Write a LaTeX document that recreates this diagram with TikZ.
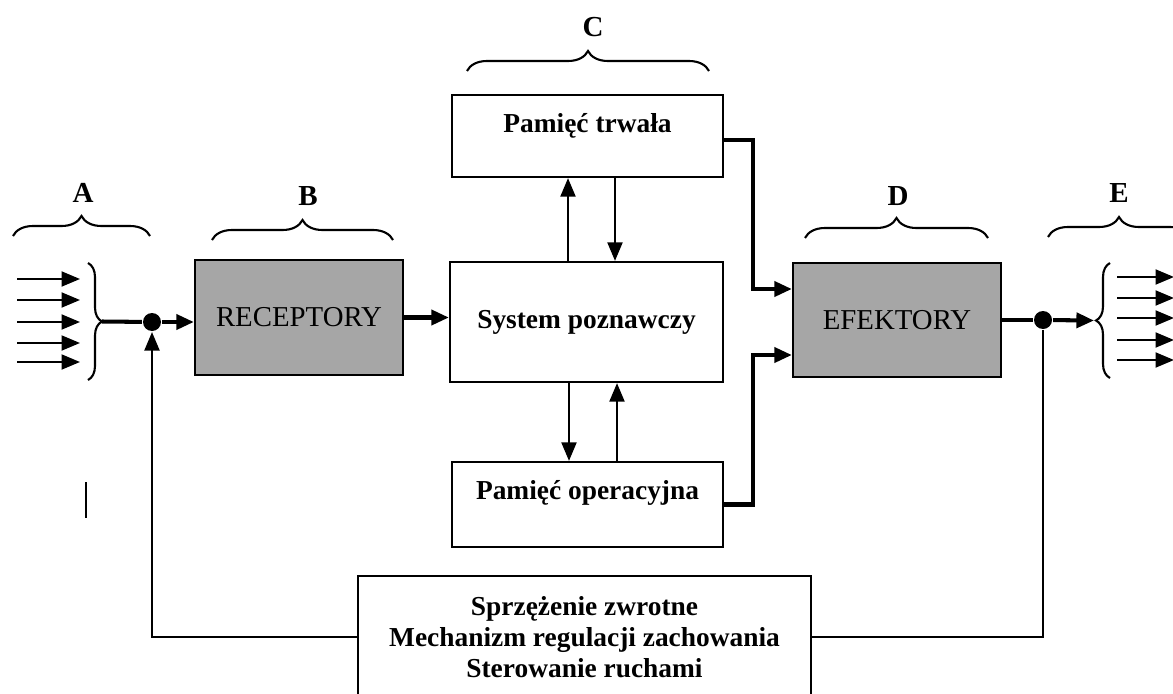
\documentclass[tikz,border=0pt]{standalone}
\usepackage{fontspec}
\setmainfont{Liberation Serif}
\usetikzlibrary{arrows.meta,decorations.pathreplacing,calc}

\begin{document}
\begin{tikzpicture}[x=0.02cm,y=-0.02cm,line width=1.2pt]
    \tikzstyle{block}=[draw=black,line width=1.3pt,inner sep=0pt,align=center,font=\fontsize{15.6}{17.6}\selectfont\bfseries]
    \tikzstyle{gray block}=[block,fill=black!35,font=\fontsize{16.4}{18}\selectfont]
    \tikzstyle{group}=[font=\fontsize{16.5}{18}\selectfont\bfseries]
    \tikzstyle{top brace}=[decorate,decoration={brace,amplitude=0.4cm}]
    \tikzstyle{side brace}=[decorate,decoration={brace,amplitude=0.28cm}]
    \tikzstyle{dot}=[circle,fill=black,minimum size=0.36cm,inner sep=0pt]
    \tikzstyle{arr}=[-{Triangle[length=10.5pt,width=8.5pt]}]
    \tikzstyle{thick arr}=[line width=2.3pt,-{Triangle[length=10pt,width=8.5pt]}]

    \useasboundingbox (0,0) rectangle (1173,693);

    % blocks
    \node[gray block,minimum width=4.16cm,minimum height=2.3cm] (rec) at (299,317.5) {RECEPTORY};
    \node[block,minimum width=5.46cm,minimum height=2.4cm] (sys) at (586.5,322) {System poznawczy};
    \node[block,minimum width=5.42cm,minimum height=1.64cm,text depth=0.52cm] (trw) at (587.5,136) {Pamięć trwała};
    \node[block,minimum width=5.42cm,minimum height=1.7cm,text depth=0.58cm] (op) at (587.5,504.5) {Pamięć operacyjna};
    \node[gray block,minimum width=4.16cm,minimum height=2.28cm] (efe) at (897,320) {EFEKTORY};
    \node[block,minimum width=9.06cm,minimum height=2.44cm] (fb) at (584.5,637)
        {Sprzężenie zwrotne\\Mechanizm regulacji zachowania\\Sterowanie ruchami};

    \node[dot] (dotA) at (152,322) {};
    \node[dot] (dotE) at (1043,320) {};

    % group labels and braces
    \foreach \name/\x/\y in {A/83/193, B/308/196, C/593/27, D/898/196, E/1119/193}
        \node[group] (lab-\name) at (\x,\y) {\name};
    \foreach \l/\r/\y in {13/150/236, 212/393/240, 467/709/71, 805/988/238, 1048/1190/237}
        \draw[top brace] (\l,\y) -- (\r,\y);

    % inputs and outputs
    \foreach \y in {279,300,322,343,362}
        \draw[arr] (17,\y) -- (80,\y);
    \foreach \y in {277,298,318,340,360}
        \draw[arr] (1117,\y) -- (1174,\y);
    \draw[side brace] (88,263) -- (88,380);
    \draw[side brace] (1110,378) -- (1110,263);
    \coordinate (tipA) at (102,321.5);
    \coordinate (tipE) at (1094,320.5);

    \draw (86,482) -- (86,518);

    % connections
    \draw[line width=2.3pt] (tipA) -- (dotA);
    \draw[thick arr] (dotA) -- (dotA -| rec.west);
    \draw[thick arr] (rec.east) -- (rec.east -| sys.west);
    \draw[arr] ($(sys.north)+(-18.5,0)$) -- ($(trw.south)+(-19.5,0)$);
    \draw[arr] ($(trw.south)+(27.5,0)$) -- ($(sys.north)+(28.5,0)$);
    \draw[arr] ($(sys.south)+(-17.5,0)$) -- ($(op.north)+(-18.5,0)$);
    \draw[arr] ($(op.north)+(29.5,0)$) -- ($(sys.south)+(30.5,0)$);
    \draw[thick arr] ($(trw.east)+(0,4)$) -- ++(29,0) |- ($(efe.west)+(0,-31)$);
    \draw[thick arr] (op.east) -- ++(29,0) |- ($(efe.west)+(0,35)$);
    \draw[line width=2.3pt] (efe.east) -- (dotE);
    \draw[thick arr] (dotE) -- (tipE);
    \draw[arr] (fb.west) -| (dotA);
    \draw (fb.east) -| (dotE);
\end{tikzpicture}
\end{document}
